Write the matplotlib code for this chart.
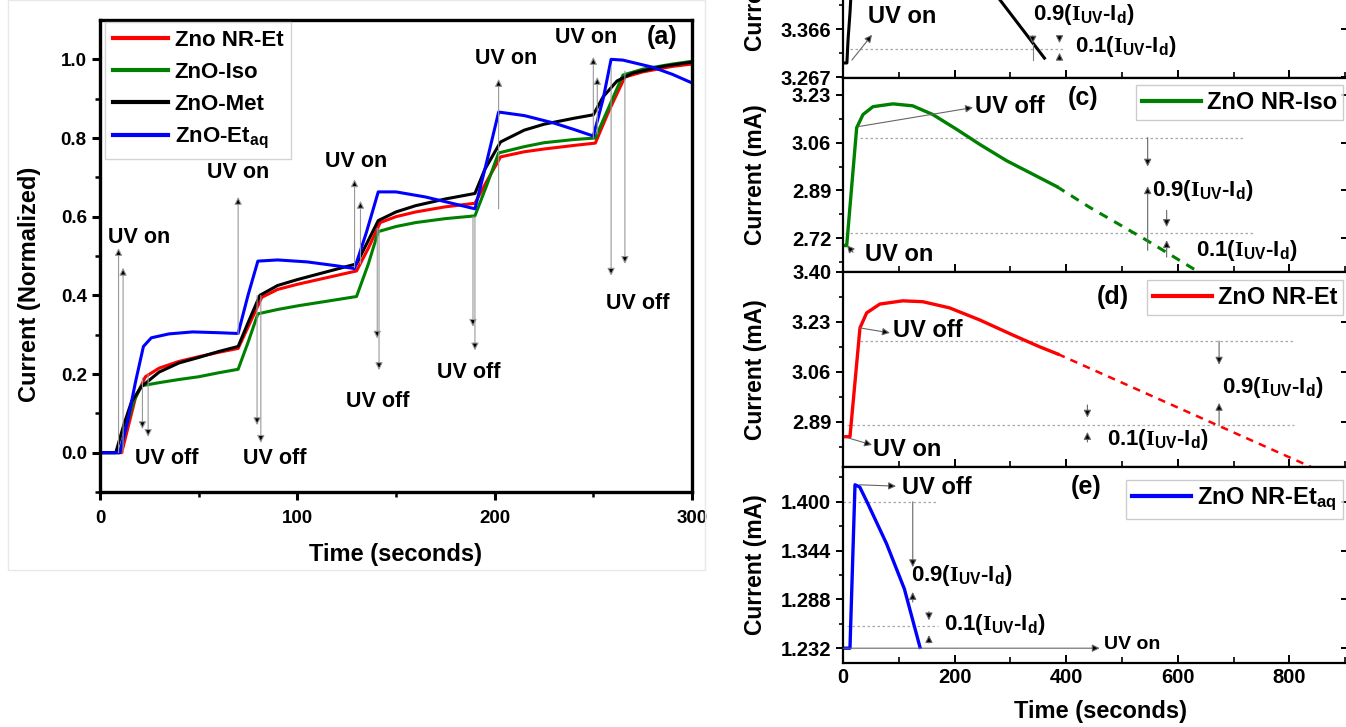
import numpy as np
import matplotlib
matplotlib.use("Agg")
import matplotlib.pyplot as plt
from matplotlib.patches import Rectangle

plt.rcParams['font.family'] = ['Liberation Sans', 'DejaVu Sans']
plt.rcParams['font.weight'] = 'bold'
plt.rcParams['axes.labelweight'] = 'bold'
plt.rcParams['mathtext.fontset'] = 'custom'
plt.rcParams['mathtext.rm'] = 'Liberation Serif'
plt.rcParams['mathtext.bf'] = 'Liberation Sans:bold'
plt.rcParams['mathtext.it'] = 'Liberation Sans:bold'

# ---------------------------------------------------------------------------
# (a) normalized current, four samples
# ---------------------------------------------------------------------------
met_t = [0, 8, 12, 16, 21, 30, 40, 50, 60, 70, 75, 81, 90, 100, 115, 130, 135, 141, 150, 160,
         175, 190, 195, 203, 215, 225, 240, 250, 255, 262, 270, 285, 300]
met_v = [0, 0, 0.07, 0.13, 0.168, 0.205, 0.228, 0.242, 0.257, 0.27, 0.33, 0.40, 0.425, 0.44,
         0.46, 0.48, 0.53, 0.59, 0.612, 0.628, 0.645, 0.659, 0.72, 0.79, 0.82, 0.835, 0.85,
         0.859, 0.905, 0.945, 0.965, 0.982, 0.993]

et_t = [0, 11, 14, 18, 23, 30, 40, 50, 60, 70, 76, 82, 90, 100, 115, 130, 136, 142, 150, 160,
        175, 190, 196, 203, 215, 225, 240, 251, 258, 266, 275, 290, 300]
et_v = [0, 0, 0.06, 0.14, 0.193, 0.215, 0.232, 0.244, 0.255, 0.265, 0.33, 0.395, 0.415, 0.428,
        0.445, 0.462, 0.52, 0.585, 0.60, 0.612, 0.625, 0.634, 0.69, 0.752, 0.765, 0.772, 0.781,
        0.787, 0.87, 0.955, 0.968, 0.982, 0.988]

iso_t = [0, 10, 13, 17, 21, 30, 40, 50, 60, 70, 75, 80, 90, 101, 115, 130, 136, 141, 150, 160,
         175, 190, 196, 202, 215, 225, 240, 251, 258, 265, 275, 290, 300]
iso_v = [0, 0, 0.06, 0.13, 0.17, 0.178, 0.186, 0.193, 0.203, 0.212, 0.28, 0.353, 0.364, 0.374,
         0.385, 0.397, 0.48, 0.562, 0.575, 0.585, 0.595, 0.602, 0.68, 0.762, 0.778, 0.788, 0.796,
         0.80, 0.88, 0.96, 0.975, 0.988, 0.995]

aq_t = [0, 10, 14, 18, 22, 26, 35, 47, 60, 70, 75, 80, 90, 105, 120, 129, 135, 141, 150, 165,
        180, 190, 196, 202, 215, 230, 240, 250, 255, 259, 265, 280, 290, 300]
aq_v = [0, 0, 0.08, 0.18, 0.27, 0.292, 0.302, 0.307, 0.305, 0.303, 0.40, 0.487, 0.49, 0.485,
        0.475, 0.468, 0.56, 0.663, 0.663, 0.65, 0.632, 0.62, 0.74, 0.866, 0.857, 0.838, 0.822,
        0.805, 0.9, 1.0, 0.998, 0.98, 0.962, 0.94]

# UV on / off markers in (a): x, start, head
on_x = [9.4, 11.7, 70, 129, 132, 202, 250, 252]
on_y0 = [0.0, 0.0, 0.30, 0.47, 0.48, 0.62, 0.80, 0.81]
on_y1 = [0.52, 0.47, 0.65, 0.695, 0.64, 0.95, 1.006, 0.955]
off_x = [21.5, 24.4, 79.6, 81.5, 140.5, 141.4, 189, 190, 259, 266]
off_y0 = [0.19, 0.20, 0.40, 0.40, 0.57, 0.57, 0.60, 0.60, 0.98, 0.97]
off_y1 = [0.06, 0.04, 0.07, 0.025, 0.29, 0.21, 0.32, 0.26, 0.45, 0.48]

# ---------------------------------------------------------------------------
# (b)-(e) single UV pulse, current in mA
# ---------------------------------------------------------------------------
b_t = [3, 7, 9, 12.5, 14.5, np.nan, 272, 361]
b_i = [3.296, 3.296, 3.343, 3.399, 3.44, np.nan, 3.44, 3.306]

c_t = [4, 6.6, 24.5, 35.8, 53.7, 89.4, 125, 161, 204, 245, 293, 340, 383]
c_i = [2.694, 2.694, 3.113, 3.160, 3.188, 3.198, 3.191, 3.160, 3.107, 3.054, 2.996, 2.948, 2.904]
c_fit_t = [383, 442, 544, 644]
c_fit_i = [2.904, 2.830, 2.713, 2.592]

d_t = [5, 12.5, 30.4, 42.4, 66, 107, 143, 191, 245, 304, 352, 385]
d_i = [2.840, 2.840, 3.210, 3.261, 3.291, 3.302, 3.299, 3.278, 3.237, 3.186, 3.146, 3.121]
d_fit_t = [385, 839]
d_fit_i = [3.121, 2.737]

e_t = [3.6, 12.5, 21.5, 30, 43, 78, 110, 138]
e_i = [1.232, 1.232, 1.4196, 1.417, 1.400, 1.352, 1.300, 1.233]

# 0.9 / 0.1 threshold levels: (level, t_start, t_end)
b_levels = [(3.325, 12, 394)]
c_levels = [(3.078, 30, 720), (2.738, 4, 738)]
d_levels = [(3.165, 30, 809), (2.880, 7, 809)]
e_levels = [(1.400, 0, 166), (1.257, 7, 170)]

b_ticks = [3.267, 3.366, 3.465, 3.564]
c_ticks = [2.72, 2.89, 3.06, 3.23]
d_ticks = [2.89, 3.06, 3.23, 3.40]
e_ticks = [1.232, 1.288, 1.344, 1.400]

lbl9 = r'0.9($\mathrm{I}_{\mathbf{UV}}$-I$_{\mathbf{d}}$)'
lbl1 = r'0.1($\mathrm{I}_{\mathbf{UV}}$-I$_{\mathbf{d}}$)'

W, H = 1346, 727
fig = plt.figure(figsize=(W / 100, H / 100), dpi=100)


def box(x0, y0, x1, y1):
    # pixel box (top-left origin) -> figure fraction rect
    return [x0 / W, (H - y1) / H, (x1 - x0) / W, (y1 - y0) / H]


fig.patches.append(Rectangle((8 / W, (H - 570) / H), 697 / W, 570 / H, transform=fig.transFigure,
                             fill=False, ec='#e8e8e8', lw=1))


def arrow(ax, tail, head, ec='0.4'):
    ax.annotate('', xy=head, xytext=tail,
                arrowprops=dict(arrowstyle='-|>', lw=0.8, ec=ec, fc='k',
                                mutation_scale=11, shrinkA=0, shrinkB=0))


# ---------------- panel (a) ----------------
ax = fig.add_axes(box(100, 20, 692, 492))
ax.plot(et_t, et_v, color='#ff0000', lw=2.2, label='Zno NR-Et')
ax.plot(iso_t, iso_v, color='#008000', lw=2.2, label='ZnO-Iso')
ax.plot(met_t, met_v, color='black', lw=2.2, label='ZnO-Met')
ax.plot(aq_t, aq_v, color='#0000ff', lw=2.2, label=r'ZnO-Et$_{\mathbf{aq}}$')
ax.set_xticks([0, 100, 200, 300])
ax.set_xticks([50, 150, 250], minor=True)
ax.set_yticks([0.0, 0.2, 0.4, 0.6, 0.8, 1.0])
ax.set_yticks([-0.1, 0.1, 0.3, 0.5, 0.7, 0.9], minor=True)
ax.set_yticklabels(['0.0', '0.2', '0.4', '0.6', '0.8', '1.0'])
ax.set_xlim(0, 300)
ax.set_ylim(-0.1, 1.1)
for s in ax.spines.values():
    s.set_linewidth(2.4)
ax.tick_params(which='major', direction='out', length=6, width=2.2, labelsize=13.5)
ax.tick_params(axis='x', which='major', pad=7)
ax.tick_params(which='minor', direction='out', length=3.5, width=1.8)
ax.set_xlabel('Time (seconds)', fontsize=17)
ax.set_ylabel('Current (Normalized)', fontsize=17)
ax.xaxis.set_label_coords(0.5, -0.108)
ax.yaxis.set_label_coords(-0.1, 0.44)

for x, y0, y1 in zip(on_x, on_y0, on_y1):
    arrow(ax, (x, y0), (x, y1), ec='0.6')
for x, y0, y1 in zip(off_x, off_y0, off_y1):
    arrow(ax, (x, y0), (x, y1), ec='0.6')
for x, y in [(20, 0.548), (70, 0.713), (130, 0.739), (206, 1.003), (246.6, 1.056)]:
    ax.text(x, y, 'UV on', fontsize=15.5, ha='center', va='center')
for x, y in [(34, -0.015), (88.5, -0.015), (141, 0.13), (187, 0.203), (272.5, 0.38)]:
    ax.text(x, y, 'UV off', fontsize=15.5, ha='center', va='center')
ax.text(285, 1.056, '(a)', fontsize=18, ha='center', va='center')
leg = ax.legend(loc='upper left', bbox_to_anchor=(0.008, 0.996), fontsize=16, frameon=True,
                fancybox=False, edgecolor='#c8c8c8', handlelength=2.5, handletextpad=0.3,
                labelspacing=0.5, borderpad=0.35, borderaxespad=0)
for ln in leg.get_lines():
    ln.set_linewidth(3)

# ---------------- panels (b)-(e) ----------------
panels = [
    ('b', box(843, -117, 1348, 78), (3.265, 3.667), b_ticks, b_levels),
    ('c', box(843, 78, 1348, 272), (2.60, 3.29), c_ticks, c_levels),
    ('d', box(843, 272, 1348, 467), (2.737, 3.40), d_ticks, d_levels),
    ('e', box(843, 467, 1348, 663), (1.215, 1.440), e_ticks, e_levels),
]
axs = {}
for key, rect, ylim, yt, levels in panels:
    a = fig.add_axes(rect)
    axs[key] = a
    a.set_xticks([0, 200, 400, 600, 800])
    a.set_xticks([100, 300, 500, 700, 900], minor=True)
    a.set_yticks(yt)
    step = yt[1] - yt[0]
    mids = [v + step / 2 for v in [yt[0] - step] + list(yt)]
    a.set_yticks([m for m in mids if ylim[0] <= m <= ylim[1]], minor=True)
    fmt = '%.3f' if key in ('b', 'e') else '%.2f'
    a.set_yticklabels([fmt % v for v in yt])
    a.set_xlim(0, 905)
    a.set_ylim(*ylim)
    for s in a.spines.values():
        s.set_linewidth(1.6)
    a.tick_params(axis='x', which='both', direction='in', top=False, bottom=True,
                  labelbottom=(key == 'e'), labelsize=14.5)
    a.tick_params(axis='x', which='major', length=6, width=1.4)
    a.tick_params(axis='x', which='minor', length=4, width=1.2)
    a.tick_params(axis='y', which='both', direction='out', right=False, labelsize=14.5)
    a.tick_params(axis='y', which='major', length=5, width=1.4)
    a.tick_params(axis='y', which='minor', length=3, width=1.2)
    ra = a.secondary_yaxis('right')
    ra.set_yticks([v for v in yt if ylim[0] <= v <= ylim[1]])
    ra.tick_params(direction='in', length=5, width=1.4, labelright=False)
    ra.spines['right'].set_linewidth(1.6)
    for lev, t0, t1 in levels:
        a.plot([t0, t1], [lev, lev], ls=(0, (2, 2)), color='#a8a8a8', lw=0.9)
    a.set_ylabel('Current (mA)', fontsize=16.5)
    a.yaxis.set_label_coords(-0.15, 0.5)

# (b)
a = axs['b']
a.plot(b_t, b_i, color='black', lw=2.2)
arrow(a, (16, 3.302), (52, 3.354))
a.text(45, 3.391, 'UV on', fontsize=17, ha='left', va='center')
a.plot([340, 340], [3.336, 3.302], color='0.5', lw=0.8)
arrow(a, (340, 3.352), (340, 3.336))
arrow(a, (388, 3.350), (388, 3.337))
arrow(a, (388, 3.302), (388, 3.317))
a.text(340, 3.395, lbl9, fontsize=16, ha='left', va='center')
a.text(415, 3.329, lbl1, fontsize=16, ha='left', va='center')

# (c)
a = axs['c']
a.plot(c_t, c_i, color='#008000', lw=2.4, label='ZnO NR-Iso')
a.plot(c_fit_t, c_fit_i, color='#008000', lw=2.2, ls=(0, (3, 2.5)))
arrow(a, (27, 3.117), (233, 3.185))
a.text(236, 3.19, 'UV off', fontsize=17, ha='left', va='center')
arrow(a, (18, 2.670), (7, 2.695))
a.text(39, 2.663, 'UV on', fontsize=17, ha='left', va='center')
arrow(a, (546, 3.078), (546, 2.975))
arrow(a, (546, 2.677), (546, 2.905))
arrow(a, (580, 2.819), (580, 2.760))
arrow(a, (580, 2.653), (580, 2.713))
a.text(553, 2.89, lbl9, fontsize=16, ha='left', va='center')
a.text(633, 2.675, lbl1, fontsize=16, ha='left', va='center')
a.text(431, 3.218, '(c)', fontsize=18, ha='center', va='center')

# (d)
a = axs['d']
a.plot(d_t, d_i, color='#ff0000', lw=2.4, label='ZnO NR-Et')
a.plot(d_fit_t, d_fit_i, color='#ff0000', lw=1.8, ls=(0, (3, 2.5)))
arrow(a, (30, 3.21), (84, 3.193))
a.text(89, 3.20, 'UV off', fontsize=17, ha='left', va='center')
arrow(a, (9, 2.836), (52, 2.812))
a.text(54, 2.795, 'UV on', fontsize=17, ha='left', va='center')
arrow(a, (674, 3.165), (674, 3.085))
arrow(a, (674, 2.880), (674, 2.955))
arrow(a, (438, 2.948), (438, 2.905))
arrow(a, (438, 2.822), (438, 2.856))
a.text(679, 3.009, lbl9, fontsize=16, ha='left', va='center')
a.text(474, 2.829, lbl1, fontsize=16, ha='left', va='center')
a.text(483, 3.315, '(d)', fontsize=18, ha='center', va='center')

# (e)
a = axs['e']
a.plot(e_t, e_i, color='#0000ff', lw=2.4, label=r'ZnO NR-Et$_{\mathbf{aq}}$')
arrow(a, (29, 1.4196), (95, 1.418))
a.text(105, 1.416, 'UV off', fontsize=17, ha='left', va='center')
arrow(a, (0, 1.232), (460, 1.232))
a.text(467, 1.236, 'UV on', fontsize=14, ha='left', va='center')
arrow(a, (125, 1.400), (125, 1.325))
arrow(a, (125, 1.285), (125, 1.2965))
arrow(a, (154, 1.274), (154, 1.264))
arrow(a, (154, 1.238), (154, 1.247))
a.text(122, 1.316, lbl9, fontsize=16, ha='left', va='center')
a.text(181, 1.259, lbl1, fontsize=16, ha='left', va='center')
a.text(435, 1.417, '(e)', fontsize=18, ha='center', va='center')
a.set_xlabel('Time (seconds)', fontsize=17)
a.xaxis.set_label_coords(0.51, -0.19)

for key, top in [('c', 0.964), ('d', 0.959), ('e', 0.934)]:
    lg = axs[key].legend(loc='upper right', bbox_to_anchor=(0.99, top), fontsize=17,
                         frameon=True, fancybox=False, edgecolor='#c0c0c0', handlelength=2.5,
                         handletextpad=0.25, borderpad=0.25, borderaxespad=0)
    for ln in lg.get_lines():
        ln.set_linewidth(3)

fig.savefig('out.png', dpi=100)
